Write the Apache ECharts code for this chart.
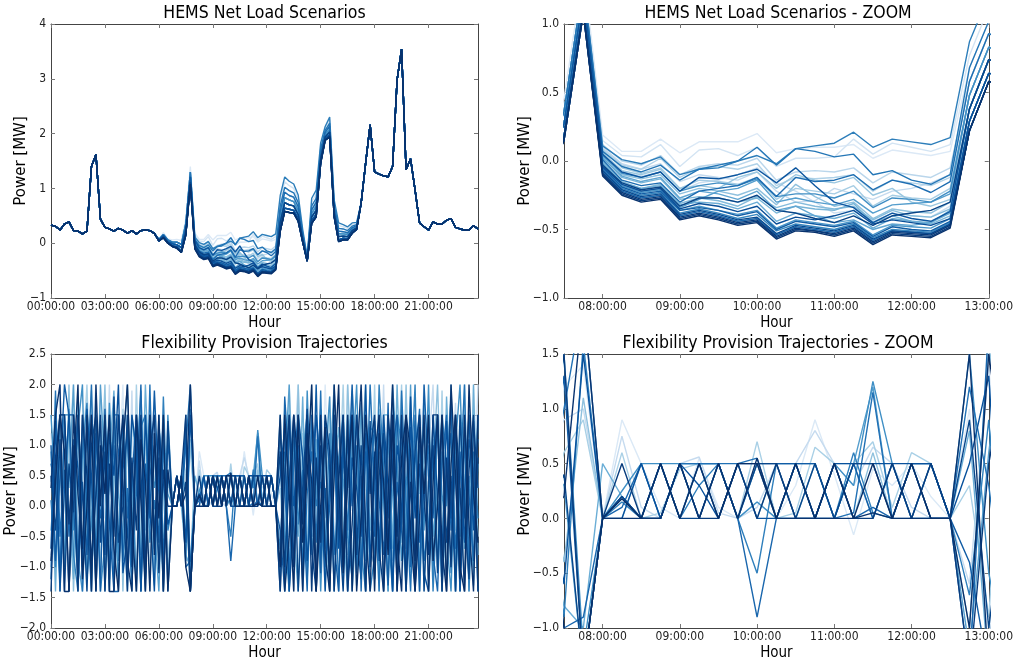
<!DOCTYPE html>
<html><head><meta charset="utf-8">
<script src="https://cdn.jsdelivr.net/npm/echarts@6/dist/echarts.min.js"></script>
<style>html,body{margin:0;padding:0;background:#fff}#c{width:1016px;height:666px}</style>
</head><body><div id="c"></div>
<script>
// ---------- time resolution ----------
const STEP_HOURS = 0.25; // 15-minute data, 96 points per day

// ---------- tick labels ----------
const fullDayTicks = [0, 3, 6, 9, 12, 15, 18, 21];
const zoomTicks = [8, 9, 10, 11, 12, 13];

// ---------- HEMS net load scenarios (MW) ----------
// common part 00:00-05:45 (idx 0-23)
const nlHead = [0.33,0.31,0.24,0.35,0.39,0.23,0.22,0.17,0.22,1.40,1.62,0.44,
                0.29,0.26,0.22,0.27,0.24,0.18,0.23,0.17,0.23,0.24,0.23,0.18];
// common part 17:15-23:45 (idx 69-95)
const nlTail = [0.73,1.46,2.16,1.30,1.26,1.23,1.21,1.40,2.98,3.54,1.34,1.54,
                0.97,0.37,0.30,0.24,0.39,0.35,0.35,0.42,0.45,0.29,0.26,0.24,
                0.24,0.32,0.26];
// 06:00-07:45 (idx 24-31), upper to lower scenarios
const nlPreA = [0.08,0.19,0.08,0.06,0.07,0.05,0.45,1.40];
const nlPreB = [0.07,0.16,0.06,0.02,0.02,-0.02,0.36,1.30];
const nlPreC = [0.06,0.14,0.03,-0.01,-0.03,-0.08,0.27,1.21];
const nlPreD = [0.04,0.11,0.01,-0.05,-0.07,-0.15,0.18,1.11];
const nlPreE = [0.04,0.10,0.00,-0.06,-0.09,-0.17,0.15,1.08];
// 12:45-17:00 (idx 51-68), upper to lower scenarios
const nlPostA = [0.87,1.21,1.13,1.08,0.88,0.25,-0.25,0.82,0.97,1.83,2.13,2.30,0.79,0.37,0.34,0.30,0.37,0.38];
const nlPostB = [0.77,1.12,1.05,1.00,0.81,0.22,-0.26,0.75,0.90,1.78,2.09,2.25,0.74,0.32,0.30,0.27,0.34,0.36];
const nlPostC = [0.68,1.02,0.96,0.92,0.74,0.18,-0.27,0.68,0.82,1.72,2.06,2.19,0.70,0.27,0.26,0.23,0.31,0.34];
const nlPostD = [0.58,0.93,0.87,0.84,0.66,0.15,-0.29,0.61,0.75,1.66,2.02,2.14,0.65,0.22,0.21,0.19,0.28,0.32];
const nlPostE = [0.48,0.83,0.79,0.76,0.59,0.11,-0.30,0.54,0.68,1.61,1.98,2.08,0.60,0.17,0.17,0.16,0.26,0.30];
const nlPostF = [0.38,0.74,0.70,0.68,0.52,0.08,-0.31,0.48,0.60,1.55,1.94,2.03,0.56,0.12,0.13,0.12,0.23,0.28];
const nlPostG = [0.29,0.64,0.62,0.60,0.45,0.04,-0.32,0.41,0.53,1.50,1.91,1.98,0.51,0.06,0.09,0.08,0.20,0.26];
const nlPostH = [0.22,0.58,0.56,0.55,0.40,0.02,-0.33,0.36,0.48,1.46,1.88,1.94,0.48,0.03,0.06,0.06,0.18,0.25];
// 08:00-12:30 (idx 32-50), one per scenario
const nlWin01 = [0.19,0.07,0.07,0.16,0.06,0.14,0.14,0.14,0.20,0.06,0.09,0.10,0.10,0.12,0.02,0.08,0.06,0.04,0.07];
const nlWin02 = [0.15,0.04,0.03,0.12,-0.04,0.08,0.09,0.04,0.10,-0.04,0.02,0.02,0.03,0.16,0.05,0.13,0.10,0.07,0.12];
const nlWin03 = [0.12,0.00,-0.03,0.04,-0.10,-0.04,-0.02,-0.03,0.02,-0.14,-0.08,-0.07,-0.08,-0.05,-0.16,-0.08,-0.10,-0.12,-0.05];
const nlWin04 = [0.08,-0.05,-0.09,-0.05,-0.20,-0.14,-0.15,-0.17,-0.12,-0.28,-0.20,-0.22,-0.24,-0.18,-0.33,-0.25,-0.27,-0.28,-0.20];
const nlWin05 = [0.05,-0.10,-0.13,-0.10,-0.24,-0.20,-0.22,-0.25,-0.20,-0.32,-0.17,-0.26,-0.33,-0.30,-0.42,-0.35,-0.37,-0.38,-0.30];
const nlWin06 = [0.03,-0.12,-0.16,-0.13,-0.28,-0.26,-0.27,-0.30,-0.27,-0.38,-0.33,-0.35,-0.36,-0.31,-0.45,-0.40,-0.44,-0.46,-0.40];
const nlWin07 = [0.10,-0.02,-0.06,-0.02,-0.15,-0.10,-0.12,-0.14,-0.08,-0.22,-0.30,-0.29,-0.20,-0.24,-0.28,-0.22,-0.20,-0.16,-0.10];
const nlWin08 = [0.00,-0.15,-0.20,-0.18,-0.32,-0.30,-0.31,-0.35,-0.30,-0.44,-0.38,-0.40,-0.42,-0.38,-0.49,-0.42,-0.44,-0.45,-0.38];
const nlWin09 = [0.06,-0.07,-0.10,-0.06,-0.20,-0.18,-0.20,-0.12,-0.08,-0.20,-0.10,-0.14,-0.16,-0.12,-0.25,-0.20,-0.30,-0.33,-0.28];
const nlWin10 = [-0.02,-0.17,-0.22,-0.20,-0.34,-0.28,-0.22,-0.20,-0.14,-0.30,-0.27,-0.30,-0.32,-0.28,-0.38,-0.32,-0.31,-0.30,-0.24];
const nlWin11 = [0.02,-0.11,-0.15,-0.12,-0.27,-0.22,-0.24,-0.28,-0.22,-0.36,-0.33,-0.40,-0.45,-0.43,-0.50,-0.46,-0.47,-0.45,-0.36];
const nlWin12 = [-0.04,-0.18,-0.23,-0.21,-0.36,-0.33,-0.36,-0.39,-0.36,-0.49,-0.43,-0.45,-0.47,-0.44,-0.54,-0.47,-0.48,-0.49,-0.42];
const nlWin13 = [0.09,-0.03,-0.06,0.02,-0.12,-0.05,-0.04,-0.06,-0.02,-0.18,-0.12,-0.13,-0.12,-0.10,-0.22,-0.14,-0.16,-0.18,-0.12];
const nlWin14 = [-0.06,-0.20,-0.25,-0.23,-0.38,-0.35,-0.38,-0.42,-0.39,-0.51,-0.46,-0.48,-0.50,-0.46,-0.56,-0.50,-0.51,-0.52,-0.45];
const nlWin15 = [0.11,0.01,-0.02,0.03,-0.10,-0.06,-0.05,0.00,0.04,-0.02,0.09,0.11,0.13,0.21,0.10,0.16,0.14,0.12,0.17];
const nlWin16 = [0.07,-0.04,-0.08,-0.03,-0.14,-0.06,-0.03,0.00,0.10,-0.03,0.09,0.07,0.03,0.05,-0.10,-0.07,-0.14,-0.17,-0.10];
const nlWin17 = [0.01,-0.14,-0.18,-0.16,-0.30,-0.22,-0.20,-0.18,-0.12,-0.26,-0.12,-0.15,-0.14,-0.10,-0.21,-0.14,-0.17,-0.23,-0.15];
const nlWin18 = [-0.05,-0.19,-0.24,-0.22,-0.36,-0.34,-0.36,-0.40,-0.37,-0.50,-0.44,-0.46,-0.48,-0.45,-0.55,-0.48,-0.50,-0.51,-0.44];
const nlWin19 = [-0.07,-0.21,-0.26,-0.24,-0.39,-0.36,-0.39,-0.43,-0.41,-0.53,-0.47,-0.49,-0.51,-0.47,-0.57,-0.51,-0.52,-0.53,-0.46];
const nlWin20 = [-0.03,-0.16,-0.21,-0.19,-0.33,-0.27,-0.27,-0.30,-0.25,-0.36,-0.38,-0.42,-0.45,-0.40,-0.47,-0.40,-0.38,-0.36,-0.30];
const nlWin21 = [-0.09,-0.23,-0.28,-0.26,-0.41,-0.38,-0.41,-0.45,-0.43,-0.55,-0.49,-0.51,-0.53,-0.49,-0.59,-0.52,-0.53,-0.54,-0.47];
const nlWin22 = [-0.11,-0.25,-0.30,-0.28,-0.43,-0.40,-0.43,-0.47,-0.45,-0.57,-0.51,-0.52,-0.55,-0.51,-0.61,-0.54,-0.55,-0.56,-0.49];
const nlWin23 = [0.04,-0.08,-0.11,-0.08,-0.22,-0.16,-0.14,-0.10,-0.05,-0.16,-0.22,-0.30,-0.38,-0.36,-0.44,-0.38,-0.40,-0.41,-0.33];
const nlWin24 = [-0.01,-0.16,-0.20,-0.17,-0.31,-0.27,-0.29,-0.33,-0.26,-0.34,-0.30,-0.33,-0.35,-0.33,-0.43,-0.36,-0.40,-0.41,-0.35];
const nlWin25 = [0.04,-0.09,-0.12,-0.08,-0.22,-0.18,-0.16,-0.18,-0.13,-0.26,-0.24,-0.24,-0.27,-0.22,-0.34,-0.27,-0.28,-0.30,-0.22];
const nlWin26 = [-0.08,-0.22,-0.27,-0.25,-0.40,-0.37,-0.40,-0.44,-0.42,-0.54,-0.48,-0.50,-0.52,-0.48,-0.58,-0.51,-0.52,-0.53,-0.46];
const nlWin27 = [-0.10,-0.24,-0.29,-0.27,-0.42,-0.39,-0.42,-0.46,-0.44,-0.56,-0.50,-0.51,-0.54,-0.50,-0.60,-0.53,-0.54,-0.55,-0.48];
const nlWin28 = [-0.04,-0.17,-0.22,-0.20,-0.35,-0.31,-0.33,-0.37,-0.33,-0.46,-0.41,-0.43,-0.40,-0.36,-0.46,-0.43,-0.45,-0.47,-0.42];
const nlWin29 = [0.05,-0.08,-0.12,-0.08,-0.22,-0.12,-0.13,-0.10,-0.06,-0.16,-0.05,-0.18,-0.30,-0.34,-0.45,-0.38,-0.42,-0.44,-0.37];

// scenarios in drawing order (light first, dark last): [pre, window, post]
const nlScenarioParts = [
  [nlPreA, nlWin01, nlPostC], [nlPreB, nlWin02, nlPostB], [nlPreC, nlWin23, nlPostF], [nlPreB, nlWin07, nlPostD],
  [nlPreB, nlWin03, nlPostD], [nlPreB, nlWin13, nlPostD], [nlPreB, nlWin04, nlPostE], [nlPreC, nlWin09, nlPostE],
  [nlPreC, nlWin05, nlPostF], [nlPreC, nlWin24, nlPostF], [nlPreC, nlWin06, nlPostG], [nlPreC, nlWin08, nlPostF],
  [nlPreC, nlWin11, nlPostF], [nlPreC, nlWin10, nlPostE], [nlPreD, nlWin12, nlPostG], [nlPreC, nlWin25, nlPostE],
  [nlPreD, nlWin14, nlPostG], [nlPreB, nlWin15, nlPostA], [nlPreB, nlWin16, nlPostC], [nlPreC, nlWin17, nlPostD],
  [nlPreE, nlWin26, nlPostH], [nlPreD, nlWin18, nlPostG], [nlPreC, nlWin29, nlPostF], [nlPreD, nlWin28, nlPostG],
  [nlPreD, nlWin19, nlPostH], [nlPreD, nlWin20, nlPostF], [nlPreE, nlWin27, nlPostH], [nlPreE, nlWin21, nlPostH],
  [nlPreE, nlWin22, nlPostH]
];
const nlColors = ['#dce9f6','#d3e4f3','#cbdff1','#c4daee','#bad6eb','#b0d2e8','#a6cde4','#9ac7e0','#8fc1de','#84bbdb','#78b5d8',
                  '#6cadd5','#61a6d2','#559ecd','#4a96c9','#408ec4','#3686bf','#2d7eba','#2476b6','#1d6db1','#1766ab',
                  '#125ea5','#0d569f','#0a4f98','#084a90','#084487','#083f80','#083877','#08326d'];

// ---------- flexibility provision trajectories (MW), rows of 3 hours ----------
const flex01 = [1.2,-0.6,2.0,0.4,-1.2,1.5,-0.3,0.8,-1.4,1.1,2.0,-0.8,
 0.3,1.6,-1.0,0.5,2.0,-1.3,0.9,-0.2,1.5,-1.4,0.6,1.8,
 -0.7,0.2,-1.1,0,0.5,0,1.2,1.4,0,0.9,0.5,0.1,
 0,0.55,0.1,0,0.15,0,0.3,0.9,0.4,-0.15,0.45,0.3,
 0.5,0.2,0,1.0,-1.2,2.0,0.3,-0.9,1.5,0.7,-1.4,1.3,
 -0.5,2.0,0.1,-1.1,1.7,-0.3,0.9,-1.4,1.5,0.4,-0.8,2.0,
 -0.2,1.1,-1.3,0.6,1.9,-1.0,0.2,1.4,-0.6,-1.4,0.8,2.0,
 -0.4,1.2,-1.2,0.5,1.6,-0.9,0.0,1.5,1.5,-0.7,2.0,0.3];
const flex02 = [-0.8,1.5,0.2,-1.4,0.9,2.0,-0.5,1.3,-1.0,0.6,-1.4,1.7,
 -0.2,2.0,-1.2,0.4,1.4,-0.7,1.9,-1.4,0.3,1.0,-0.9,1.5,
 0.5,-1.3,0.7,0,0,0.5,0.9,1.0,0,0.75,0.1,0,
 0.5,0.56,0.05,0,0.1,0.5,0.5,0.8,0.5,0.3,0.65,0.5,
 0.1,0,0,-0.6,1.4,-1.4,0.8,2.0,-0.3,1.1,-1.0,1.5,
 0.2,-1.4,1.8,-0.6,0.7,-1.2,2.0,0.0,-0.9,1.3,-1.4,0.5,
 1.5,-0.4,2.0,-1.1,0.3,1.2,-1.4,1.8,0.1,-0.8,1.5,-1.2,
 0.9,2.0,-0.6,1.1,-1.4,0.4,1.7,-1.0,0.6,1.5,-0.3,2.0];
const flex03 = [0.4,1.8,-1.1,0.2,1.5,1.5,-1.4,0.7,2.0,-0.4,1.0,-1.2,
 1.3,-0.6,0.8,-1.4,1.6,0.0,-1.0,2.0,-0.5,1.2,-1.4,0.9,
 -0.3,1.5,-0.9,0,0.5,0,0.6,0.9,0,0.6,0,0.05,
 0.45,0.5,0.5,0,0.7,0,0.05,0.65,0.5,0.5,0.7,0.1,
 0.6,0.5,0,0.3,-0.9,1.7,-1.4,0.5,1.2,-0.7,2.0,-1.1,
 0.8,-0.2,1.5,-1.4,0.1,2.0,-0.8,1.0,-1.3,1.6,0.3,-0.6,
 2.0,-1.4,0.7,1.3,-0.9,0.4,2.0,-1.2,0.9,-0.1,1.5,-1.4,
 0.2,1.4,-0.8,1.9,-1.3,0.6,-0.4,1.5,-1.4,0.8,1.2,-0.5];
const flex04 = [-1.0,0.7,1.5,-0.9,2.0,-1.4,0.5,1.2,-0.6,1.9,-1.3,0.1,
 2.0,-0.9,0.6,1.5,-1.4,1.1,0.3,-1.2,1.7,-0.4,1.4,-1.0,
 1.1,-0.5,0.4,0,0,0.5,-0.4,1.1,0,0,0.5,0,
 0.5,0,0.5,0,0.5,0,0.5,0,0.5,0,0.6,0,
 0.5,0,0,-1.0,1.6,0.2,-1.2,2.0,-0.6,0.9,1.5,-1.4,
 1.4,-0.4,-1.4,1.1,0.6,-1.0,2.0,0.4,-1.3,0.8,2.0,-0.7,
 -1.0,1.6,0.0,-1.4,1.2,0.5,-0.6,2.0,-1.1,1.4,0.2,1.8,
 -1.4,0.6,2.0,-0.2,-1.2,1.3,0.8,-0.9,2.0,-1.4,0.4,1.5];
const flex05 = [0.9,-1.4,1.0,1.5,-0.2,-1.2,1.8,-0.7,0.6,-1.4,1.5,0.4,
 -1.1,0.8,1.9,-0.5,0.2,-1.4,1.5,0.7,-0.8,2.0,0.1,-1.3,
 1.4,0.3,-1.2,0,0.5,0,-0.8,-1.0,0.5,0.2,0,0.5,
 0,0.5,0,0.5,0,0.5,0,0.5,0,0.5,0,0.5,
 0,0.5,0,0.8,-1.4,1.2,0.3,-0.5,1.8,-1.2,0.4,1.1,
 -0.9,1.5,-1.4,0.6,1.3,-0.3,-1.4,1.9,0.7,-1.0,1.1,-0.4,
 0.6,-1.2,1.5,1.5,-0.7,2.0,-0.2,-1.4,0.5,1.3,-1.1,0.9,
 1.5,-0.5,0.3,-1.4,1.8,0.1,-0.9,1.2,0.4,-1.2,2.0,-0.8];
const flex06 = [-0.4,0.6,-1.4,1.4,0.3,2.0,-0.9,-1.4,1.5,0.2,-0.7,2.0,
 0.6,-1.4,1.3,0.2,-0.7,1.5,-1.3,0.5,1.9,-0.9,0.8,-0.3,
 -1.4,0.9,0.2,0,0,0.5,0.3,-1.4,0,0.2,0,0,
 0.5,0.5,0.5,0,0.5,0,0,0,0,0.5,1.2,0,
 0,0,0,-1.2,0.6,2.0,-0.4,-1.4,0.9,1.5,-0.8,0.2,
 1.6,-1.2,0.5,2.0,-0.6,0.3,1.4,-1.4,-0.2,1.7,-0.9,1.0,
 -0.3,0.9,-1.4,1.1,0.2,-1.0,1.6,-0.5,2.0,-1.4,0.6,1.2,
 -0.6,1.1,-1.0,0.9,0.0,2.0,-1.4,0.3,-0.7,1.6,-1.3,0.7];
const flex07 = [1.5,0.2,0.8,-1.0,1.6,-0.4,1.3,2.0,-1.2,-0.3,1.8,-1.4,
 -0.6,1.7,0.0,-1.2,0.9,2.0,-0.4,1.1,-1.4,0.4,1.5,0.3,
 0.7,-1.4,1.5,0,0.5,0,1.5,-1.2,0,0.25,0.5,0.5,
 0.5,0.5,0.5,0,0.15,0,0,0,0.5,0.3,1.25,0.5,
 0,0,0,1.5,-0.5,-1.4,1.1,0.4,-1.0,1.9,-0.2,0.8,
 -1.4,0.7,1.8,-0.8,0.2,-1.3,1.5,0.6,2.0,-0.7,-1.4,1.3,
 1.2,-0.6,0.4,-1.4,2.0,0.7,-0.9,0.3,1.5,-1.3,1.0,-0.4,
 2.0,-1.1,1.4,0.2,-0.5,-1.4,1.0,2.0,-0.2,0.5,-1.0,1.4];
const flex08 = [0.1,-1.0,1.5,1.5,1.5,-0.8,-1.4,0.9,1.7,-1.1,0.3,1.4,
 -1.4,0.4,1.0,-0.9,1.5,-0.2,0.7,-1.4,1.3,1.5,-0.6,0.1,
 -0.9,1.8,-0.4,0,0,0.5,-0.9,1.6,0,0.15,0,0.5,
 0,0.3,0.5,0,-0.5,0.5,0.5,0.5,0,0.6,0.05,0,
 0.5,0.5,0,-0.7,0.9,-1.4,1.5,-0.3,0.6,-1.1,1.4,0.0,
 0.4,-0.7,1.2,-1.4,0.8,1.5,-0.5,-1.2,1.0,0.1,1.5,-1.4,
 -0.8,2.0,0.6,-0.4,-1.4,1.5,1.0,-0.7,0.3,2.0,-1.4,0.5,
 1.0,-1.4,0.2,1.5,0.7,-1.1,1.5,-0.5,1.1,-1.4,0.9,-0.2];
const flex09 = [-1.2,1.9,-0.5,0.6,-1.4,0.4,1.5,-1.4,0.3,2.0,-0.9,0.8,
 1.1,-1.2,1.5,1.5,-0.9,0.3,-1.4,1.4,0.2,-1.0,2.0,-0.7,
 1.5,-0.8,0.5,0,0.5,0,1.0,2.0,0,0.2,0,0,
 0.5,0.5,0.5,0.5,0.55,0,0.5,0,0,0.05,1.15,0,
 0.5,0.5,0,1.2,0.3,-1.1,0.7,1.5,-1.4,0.2,0.9,-0.6,
 1.9,-1.0,0.0,1.2,-1.4,0.9,-0.4,1.5,-1.1,0.5,-0.3,2.0,
 0.3,-1.4,1.3,-0.2,0.8,-1.2,1.9,0.1,-1.4,0.7,1.6,-0.9,
 -0.3,0.8,1.5,-1.4,0.5,1.2,-0.7,0.4,2.0,-1.0,0.1,1.1];
const flex10 = [0.7,0.3,-1.2,1.5,-0.5,1.1,-1.0,1.5,0.0,-1.4,1.2,-0.2,
 0.4,1.5,-1.4,-1.4,0.6,1.2,-0.8,0.2,2.0,-1.2,0.5,1.0,
 -0.6,1.2,-1.4,0,0,0.5,-1.0,-0.9,0,0.1,0.5,0,
 0.5,0,0.5,0,-0.9,0,0.5,0,0.5,0,0.1,0,
 0.5,0,0,-1.4,1.8,0.6,-0.9,1.0,0.1,-1.4,1.5,0.7,
 -0.4,0.3,-1.2,1.5,0.4,-0.9,1.1,0.0,1.5,-1.4,0.9,0.2,
 1.4,0.1,-0.8,1.7,-1.4,0.4,-0.3,1.2,-1.0,1.5,-0.6,0.0,
 1.3,-0.8,-1.4,0.7,1.5,-0.4,0.6,-1.4,1.3,0.2,-0.9,1.5];
const flex11 = [1.0,-0.9,0.5,2.0,1.5,0.0,-1.2,0.4,-0.8,1.5,0.6,-1.4,
 1.6,-0.3,-1.4,0.9,1.3,-1.1,0.4,1.5,-1.4,0.7,-0.2,1.9,
 0.2,-1.0,1.1,0,0.5,0,1.3,-1.4,0,0.2,0,0.5,
 0,0.5,0,0.5,0.5,0.5,0.5,0.5,0,0.5,0,0.5,
 0,0.5,0,-0.4,-1.4,1.5,0.0,0.8,-1.2,1.3,-0.5,2.0,
 -1.1,1.4,0.6,-0.6,-1.4,1.1,0.3,2.0,-0.5,-1.2,1.2,0.6,
 -0.5,1.5,0.2,-1.3,0.9,1.5,-0.4,-1.1,1.3,0.4,-1.4,2.0,
 0.5,-0.2,1.5,-1.2,0.3,1.8,-1.4,0.9,-0.6,1.1,0.6,-1.4];
const flex12 = [-0.7,1.4,-1.4,0.3,1.5,1.5,0.6,-1.0,1.6,0.5,-1.4,0.9,
 -0.8,1.2,0.5,2.0,-1.1,-0.5,1.5,0.9,-1.4,1.5,0.0,-1.4,
 1.3,0.4,-0.3,0,0,0.5,-0.6,1.5,0,0,0.5,0,
 0.5,0.3,0,0.5,0,0,0.5,0,0.5,0.5,0.5,0.5,
 0.5,0.5,0,0.5,1.3,-1.4,-0.2,1.5,0.8,-0.9,0.1,1.5,
 0.6,-1.4,0.4,1.3,-0.7,1.5,-1.4,0.8,0.3,-0.5,2.0,-1.0,
 0.9,-0.9,1.5,0.3,-1.4,1.0,0.5,-1.4,1.8,-0.2,0.7,-1.1,
 -1.4,1.5,0.1,-0.8,1.4,-0.2,1.5,-1.4,0.2,1.5,-0.4,0.8];
const flex13 = [0.5,-0.4,1.1,-1.4,0.7,-0.1,1.5,0.2,-1.4,1.0,1.5,-0.6,
 0.9,-1.4,1.8,-0.6,0.0,1.5,-1.0,1.5,0.6,-1.4,1.5,-0.5,
 0.8,-1.4,1.4,0,0.5,0,0.4,-1.4,0,0.2,0,0.5,
 0,0,0.5,0,0.5,0.5,0,0.5,0,0.5,0.5,0,
 0.5,0,0,0.9,-1.0,0.4,1.5,-1.4,0.3,1.6,-0.7,-1.4,
 1.0,0.2,-1.0,1.5,-0.2,-1.4,0.6,1.5,-0.8,1.0,-1.4,1.4,
 -1.2,0.5,1.2,-0.7,1.5,-1.4,0.0,1.4,-0.5,0.9,1.5,-1.4,
 0.4,1.0,-1.1,1.5,-0.6,0.5,-1.4,1.5,-0.1,-1.2,1.4,0.3];
const flex14 = [-1.4,0.8,1.5,1.5,-0.3,1.0,-1.4,1.5,0.5,-0.9,0.2,1.5,
 -1.4,0.7,-0.5,1.5,0.3,-1.4,0.8,-0.4,1.5,-1.1,0.9,1.5,
 -1.1,0.6,0.0,0,0,0.5,1.5,-1.4,0,0.5,0,0,
 0.5,0,0,0.5,0,0.5,0,0,0.5,0,0,0.5,
 0,0.5,0,-1.4,0.5,1.5,-1.0,0.6,-0.3,1.5,-1.4,0.8,
 -0.6,1.5,0.9,-1.4,0.4,1.5,-1.4,-0.3,1.5,0.5,-1.4,0.9,
 1.5,-0.7,-1.4,1.5,0.6,-0.5,1.5,-1.4,0.4,-0.9,1.5,0.1,
 -0.8,1.5,1.5,-1.4,0.8,-1.0,1.5,0.3,-1.4,0.6,1.5,-1.4];
const flex15 = [0.3,1.5,2.0,-1.4,-1.4,1.5,0.2,-0.7,1.5,-1.4,2.0,0.0,
 1.5,-1.4,-1.4,0.6,1.5,-0.9,-1.4,1.5,0.1,-1.4,1.5,-0.8,
 1.5,-1.4,0.6,0,0.5,0,0.2,2.0,0,0,0,0,
 0.5,0,0.5,0,0.55,0,0,0,0,0,0.05,0,
 0,0,0,1.5,-1.4,-0.5,1.5,0.7,-1.4,1.2,0.4,-1.4,
 1.5,-0.8,-1.4,2.0,0.3,-1.0,1.5,-1.4,0.7,2.0,-0.4,-1.4,
 0.8,1.5,-1.4,0.2,2.0,-0.6,-1.4,1.5,0.9,-1.4,-0.2,1.5,
 -1.4,0.4,1.5,-0.7,-1.4,2.0,0.5,-1.2,1.5,-0.3,-1.4,1.5];
const flex16 = [-0.9,0.4,1.5,0.9,-1.4,0.6,2.0,-1.2,0.0,1.5,-1.4,1.0,
 0.2,1.5,-0.7,-1.4,1.0,2.0,-0.3,-1.4,1.1,0.4,-1.4,1.2,
 -0.2,1.5,-1.4,0,0,0.5,-1.0,-1.4,0,0.18,0,0.5,
 0,0.5,0,0.5,0.5,0,0.5,0,0.5,0,0.5,0,
 0.5,0,0,-1.0,1.5,0.2,-1.4,1.5,-0.6,0.5,2.0,-1.4,
 0.0,1.3,-1.4,0.5,2.0,-1.1,0.4,1.5,-1.4,-0.2,1.5,0.6,
 -1.4,1.2,0.4,-0.8,1.5,-1.4,0.8,1.5,-0.5,-1.4,1.3,0.2,
 1.5,-0.9,0.0,1.5,-1.4,0.7,1.5,-1.0,-1.4,2.0,0.2,-0.6];

const flexColors = ['#dbe9f6','#c6dbef','#a9d0e6','#8fc1de','#6baed6','#559ecd','#3f8fc5','#2f7fbc',
                    '#2171b5','#1966ad','#115ca5','#08519c','#08468a','#083c7d','#08336f','#082f68'];

// ---------- assemble ----------
const nlSeriesValues = nlScenarioParts.map(p => nlHead.concat(p[0], p[1], p[2], nlTail));
const flexSeriesValues = [flex01,flex02,flex03,flex04,flex05,flex06,flex07,flex08,flex09,flex10,flex11,flex12,flex13,flex14,flex15,flex16];
[...nlSeriesValues, ...flexSeriesValues].forEach((a, k) => { if (a.length !== 96) throw new Error('series ' + k + ' has ' + a.length + ' points'); });

const toPoints = vals => vals.map((v, i) => [i * STEP_HOURS, v]);

const FONT = "'DejaVu Sans Condensed','DejaVu Sans',sans-serif";
const pad2 = h => (h < 10 ? '0' : '') + h + ':00:00';
const minus = s => s.replace('-', '\u2212');

const panels = [
  {grid:{left:51, top:24, width:427, height:274}, title:'HEMS Net Load Scenarios', xmin:0, xmax:23.75, xt:fullDayTicks, ymin:-1, ymax:4, yi:1, dec:0, gap:22, vals:nlSeriesValues, colors:nlColors},
  {grid:{left:564, top:24, width:428, height:274}, title:'HEMS Net Load Scenarios - ZOOM', xmin:7.5, xmax:13, xt:zoomTicks, ymin:-1, ymax:1, yi:0.5, dec:1, gap:31, vals:nlSeriesValues, colors:nlColors},
  {grid:{left:51, top:354, width:427, height:274}, title:'Flexibility Provision Trajectories', xmin:0, xmax:23.75, xt:fullDayTicks, ymin:-2, ymax:2.5, yi:0.5, dec:1, gap:32, vals:flexSeriesValues, colors:flexColors},
  {grid:{left:564, top:354, width:428, height:274}, title:'Flexibility Provision Trajectories - ZOOM', xmin:7.5, xmax:13, xt:zoomTicks, ymin:-1, ymax:1.5, yi:0.5, dec:1, gap:31, vals:flexSeriesValues, colors:flexColors}
];

const lineC = '#444', tickC = '#777', textC = '#222';
const grid = [], xAxis = [], yAxis = [], title = [], series = [];
panels.forEach((p, g) => {
  grid.push(p.grid);
  title.push({text:p.title, left:p.grid.left + p.grid.width/2, textAlign:'center', top:p.grid.top - 20, padding:0,
    textStyle:{fontFamily:FONT, fontSize:17.5, fontWeight:'normal', color:'#000'}});
  const xBase = {type:'value', gridIndex:g, min:p.xmin, max:p.xmax, splitLine:{show:false},
    axisLine:{show:true, onZero:false, lineStyle:{color:lineC, width:1}}};
  xAxis.push(Object.assign({}, xBase, {position:'bottom', name:'Hour', nameLocation:'middle', nameGap:18, nameMoveOverlap:false,
    nameTextStyle:{fontFamily:FONT, fontSize:15, color:'#000'},
    axisTick:{show:true, inside:true, length:4, customValues:p.xt, lineStyle:{color:tickC}},
    axisLabel:{show:true, customValues:p.xt, margin:3, fontFamily:FONT, fontSize:12, color:textC, formatter:v => pad2(v)}}));
  xAxis.push(Object.assign({}, xBase, {position:'top',
    axisTick:{show:true, inside:true, length:4, customValues:p.xt, lineStyle:{color:tickC}},
    axisLabel:{show:false}}));
  const yBase = {type:'value', gridIndex:g, min:p.ymin, max:p.ymax, interval:p.yi, splitLine:{show:false},
    axisLine:{show:true, onZero:false, lineStyle:{color:lineC, width:1}},
    axisTick:{show:true, inside:true, length:4, lineStyle:{color:tickC}}};
  yAxis.push(Object.assign({}, yBase, {position:'left', name:'Power [MW]', nameLocation:'middle', nameGap:p.gap, nameRotate:90,
    nameMoveOverlap:false,
    nameTextStyle:{fontFamily:"'DejaVu Sans',sans-serif", fontSize:15, color:'#000'},
    axisLabel:{show:true, margin:5, fontFamily:FONT, fontSize:12, color:textC,
      formatter:v => minus(p.dec ? v.toFixed(1) : String(Math.round(v)))}}));
  yAxis.push(Object.assign({}, yBase, {position:'right', axisLabel:{show:false}}));
  p.vals.forEach((vals, k) => {
    series.push({type:'line', xAxisIndex:2*g, yAxisIndex:2*g, data:toPoints(vals), symbol:'none', showSymbol:false,
      clip:true, silent:true, animation:false, lineStyle:{width:1.4, color:p.colors[k]}, emphasis:{disabled:true}});
  });
});

const chart = echarts.init(document.getElementById('c'), null, {renderer:'canvas'});
chart.setOption({backgroundColor:'#fff', animation:false, grid, xAxis, yAxis, title, series, tooltip:{show:false}});
</script></body></html>
